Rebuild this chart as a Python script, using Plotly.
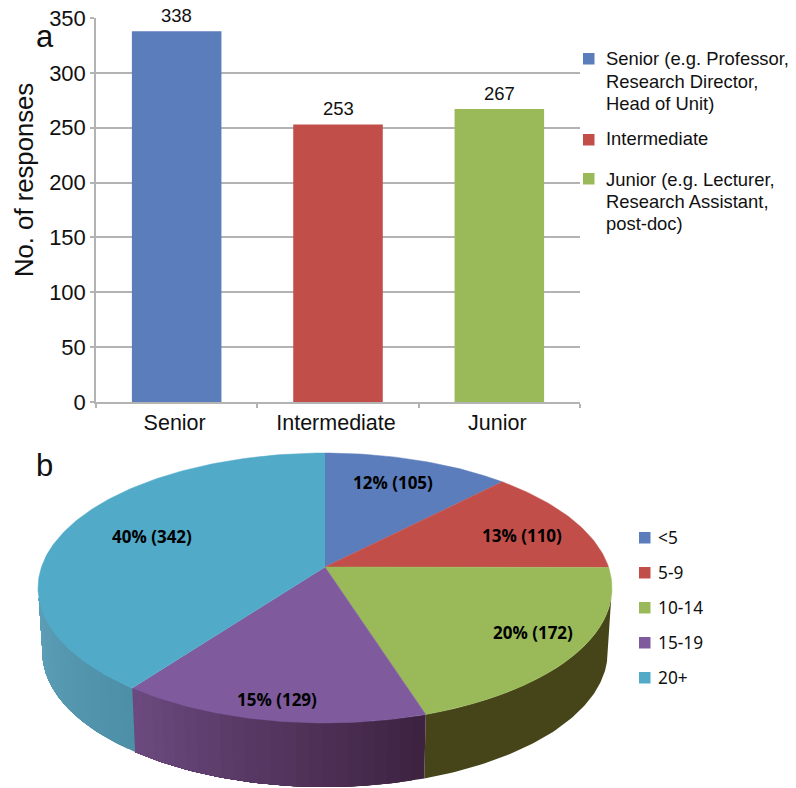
import math
import plotly.graph_objects as go

# ---- data ----
levels = ["Senior", "Intermediate", "Junior"]
responses = [338, 253, 267]
level_legend = [["Senior (e.g. Professor,", "Research Director,", "Head of Unit)"],
                ["Intermediate"],
                ["Junior (e.g. Lecturer,", "Research Assistant,", "post-doc)"]]
level_colors = ["#5B7DBB", "#C24E4A", "#9ABA59"]

years = ["<5", "5-9", "10-14", "15-19", "20+"]
year_counts = [105, 110, 172, 129, 342]
year_pct = [12, 13, 20, 15, 40]
year_colors = ["#5B7DBB", "#C24E4A", "#9ABA59", "#7F5B9E", "#50AAC8"]
# wall shading: (start colour, end colour) clockwise round the rim
wall_colors = [("#3E4A70", "#3E4A70"), ("#6E2C28", "#6E2C28"), ("#46451A", "#46451A"),
               ("#3D2240", "#6C4A80"), ("#4E8FA8", "#5E9FB8")]

W, H = 796, 788
def px(x): return x / W
def py(y): return 1 - y / H

# pie geometry (perspective of a unit disc), expressed in disc units
K = 0.1556          # perspective strength
RX, RY = 283.5, 131.7   # pixels per unit at the disc centre
CX, CY = 325, 567       # disc centre in the page
DEPTH = 64 / RY         # wall height
BOTTOM_SCALE = 0.985    # bottom rim is slightly narrower
WALL_START = math.radians(103)  # silhouette angles: the wall is only seen between them
WALL_END = math.radians(257)


def rim(theta, low=False):
    u, v = math.sin(theta), math.cos(theta)
    d = 1 + K * v
    x, y = u / d, v / d
    if low:
        return x * BOTTOM_SCALE, y - DEPTH
    return x, y


def mix(a, b, t):
    ca = [int(a[i:i + 2], 16) for i in (1, 3, 5)]
    cb = [int(b[i:i + 2], 16) for i in (1, 3, 5)]
    return "#%02x%02x%02x" % tuple(round(p + (q - p) * t) for p, q in zip(ca, cb))


fig = go.Figure()

# ---- panel a: bars ----
fig.add_trace(go.Bar(
    x=levels, y=responses, marker=dict(color=level_colors, line=dict(width=0)),
    showlegend=False, width=0.555, xaxis="x", yaxis="y"))

# ---- panel b: pie walls then top face ----
total = sum(year_counts)
edges = [0.0]
for c in year_counts:
    edges.append(edges[-1] + c / total * 2 * math.pi)


def wall_polygon(t0, t1):
    n = max(int((t1 - t0) / math.radians(1)), 1)
    angs = [t0 + (t1 - t0) * s / n for s in range(n + 1)]
    return [rim(a) for a in angs] + [rim(a, True) for a in reversed(angs)]


for i in range(len(year_counts)):
    a0, a1 = max(edges[i], WALL_START), min(edges[i + 1], WALL_END)
    if a1 <= a0:
        continue
    same = wall_colors[i][0] == wall_colors[i][1]
    n = 1 if same else 24
    for s in range(n):
        # each strip runs to the end of the slice, the next one paints over it: no seams
        t0 = a0 + (a1 - a0) * s / n
        col = mix(wall_colors[i][0], wall_colors[i][1], (s + 0.5) / n)
        p = wall_polygon(t0, a1)
        fig.add_trace(go.Scatter(
            x=[q[0] for q in p], y=[q[1] for q in p], mode="lines",
            fill="toself", fillcolor=col, line=dict(width=0),
            hoverinfo="skip", showlegend=False, xaxis="x2", yaxis="y2"))

for i in range(len(year_counts)):
    a0, a1 = edges[i], edges[i + 1]
    n = max(int((a1 - a0) / math.radians(1)), 2)
    pts = [(0, 0)] + [rim(a0 + (a1 - a0) * s / n) for s in range(n + 1)]
    fig.add_trace(go.Scatter(
        x=[q[0] for q in pts], y=[q[1] for q in pts], mode="lines",
        fill="toself", fillcolor=year_colors[i],
        line=dict(color=year_colors[i], width=0.5),
        name=years[i], showlegend=False, xaxis="x2", yaxis="y2"))

# ---- text ----
ann = []
def label(x, y, text, size, color="#111111", family="Liberation Sans", xanchor="left", align="left", yanchor="middle", **kw):
    ann.append(dict(x=px(x), y=py(y), xref="paper", yref="paper", text=text, showarrow=False,
                    xanchor=xanchor, yanchor=yanchor, align=align,
                    font=dict(size=size, color=color, family=family), **kw))

label(34, 36, "a", 31)
label(34, 465, "b", 31)
label(24, 180, "No. of responses", 25.7, xanchor="center", align="center", textangle=-90)

for name, val in zip(levels, responses):
    ann.append(dict(x=name, y=val, xref="x", yref="y", text=str(val), showarrow=False,
                    xanchor="center", yanchor="bottom", yshift=3,
                    font=dict(size=18.5, color="#111111", family="Liberation Sans")))

shapes = []
def swatch(x, y, size, color):
    shapes.append(dict(type="rect", xref="paper", yref="paper",
                       x0=px(x), x1=px(x + size), y0=py(y), y1=py(y + size),
                       fillcolor=color, line=dict(width=0)))

swatch(583, 53, 11.5, level_colors[0])
swatch(583, 134, 11.5, level_colors[1])
swatch(583, 173, 11.5, level_colors[2])
legend_first_line = [59, 139, 179]
for lines, y0 in zip(level_legend, legend_first_line):
    for j, line in enumerate(lines):
        label(604, y0 + 22.4 * j, line, 18.4)

label_pos = [(393, 482), (522, 535), (533, 632), (277, 699), (152, 536)]
for (x, y), pct, cnt in zip(label_pos, year_pct, year_counts):
    label(x, y, f"<b>{pct}% ({cnt})</b>", 17, "#000000", "Open Sans", "center", "center")

legend_y = [537.5, 572.5, 607.5, 642.5, 677.5]
for yy, name, col in zip(legend_y, years, year_colors):
    swatch(639, yy - 5.5, 11.5, col)
    label(656, yy, name.replace("<", "&lt;"), 17.3, "#111111", "Noto Sans")

grid = "#B3B3B3"
fig.update_layout(
    width=W, height=H, margin=dict(l=0, r=0, t=0, b=0, autoexpand=False),
    paper_bgcolor="white", plot_bgcolor="white",
    font=dict(family="Liberation Sans", color="#111111"),
    annotations=ann, shapes=shapes, showlegend=False,
    bargap=0.44,
    xaxis=dict(domain=[px(96), px(580)], showgrid=False, showline=True, linecolor=grid, linewidth=1.5,
               ticks="outside", ticklen=4, tickcolor=grid, tickwidth=1.5, tickson="boundaries",
               tickfont=dict(size=21.5), ticklabelshift=-2, anchor="y", fixedrange=True),
    yaxis=dict(domain=[py(402), py(18)], range=[0, 350], dtick=50, showgrid=True, gridcolor=grid,
               gridwidth=1.5, zeroline=False, showline=True, linecolor=grid, linewidth=1.5,
               ticks="outside", ticklen=4, tickcolor=grid, tickwidth=1.5,
               tickfont=dict(size=22), anchor="x", fixedrange=True),
    xaxis2=dict(domain=[0, 1], range=[-CX / RX, (W - CX) / RX], visible=False, anchor="y2", fixedrange=True),
    yaxis2=dict(domain=[0, py(440)], range=[(CY - H) / RY, (CY - 440) / RY], visible=False,
                anchor="x2", fixedrange=True),
)

fig.write_html("out.html", config=dict(displayModeBar=False),
               post_script="document.body.style.margin='0';document.documentElement.style.overflow='hidden';")
